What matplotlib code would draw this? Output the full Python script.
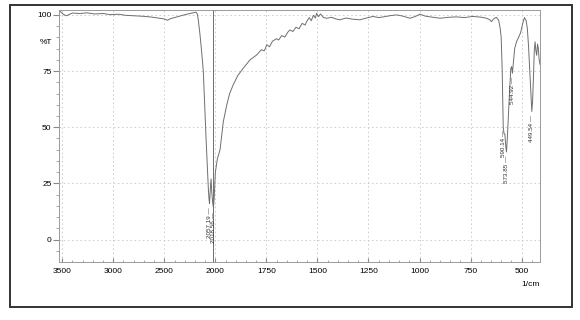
import matplotlib
matplotlib.use("Agg")
import matplotlib.pyplot as plt
import numpy as np
from matplotlib.patches import Rectangle
from matplotlib.ticker import FixedLocator

plt.rcParams['font.family'] = ['Liberation Sans', 'DejaVu Sans']

# IR spectrum (wavenumber in 1/cm, transmittance in %)
wavenumber = [3520, 3490, 3460, 3430, 3400, 3330, 3260, 3180, 3100, 3030,
              2950, 2880, 2800, 2720, 2640, 2560, 2500, 2470, 2440, 2400,
              2340, 2280, 2220, 2190, 2175, 2165, 2150, 2135, 2118, 2105,
              2091, 2078, 2068, 2062, 2057, 2050, 2042, 2035, 2025, 2018,
              2010, 2000, 1990, 1977, 1961, 1944, 1930, 1912, 1890, 1863,
              1830, 1797, 1775, 1760, 1748, 1735, 1720, 1700, 1690, 1675,
              1660, 1645, 1635, 1620, 1605, 1590, 1575, 1560, 1553, 1540,
              1530, 1520, 1510, 1504, 1495, 1485, 1470, 1455, 1430, 1410,
              1390, 1360, 1330, 1292, 1260, 1228, 1200, 1170, 1140, 1112,
              1080, 1047, 1020, 998, 970, 940, 900, 860, 820, 780,
              739, 700, 672, 655, 648, 635, 623, 612, 605, 600,
              595, 590, 586, 582, 578, 574, 570, 565, 560, 553,
              549, 545, 541, 534, 525, 517, 505, 495, 486, 478,
              472, 466, 460, 455, 450, 446, 442, 438, 434, 430,
              426, 422, 418, 414, 410]
transmittance = [101.5, 100.3, 99.6, 100.2, 100.8, 100.6, 100.9, 100.4, 100.6, 100.1,
                 100.3, 99.8, 99.6, 99.4, 99.1, 98.6, 98.2, 97.6, 98.3, 98.8,
                 99.6, 100.3, 100.9, 101.2, 100.2, 97.0, 91.0, 84.0, 75.0, 60.0,
                 45.0, 32.0, 22.0, 18.0, 16.0, 22.0, 27.0, 21.0, 16.0, 14.0,
                 20.0, 30.0, 36.0, 40.0, 52.5, 60.0, 65.0, 69.0, 73.0, 76.3,
                 80.0, 82.2, 84.5, 84.0, 86.7, 85.8, 88.3, 89.4, 88.8, 90.8,
                 90.1, 92.3, 93.3, 92.6, 94.5, 93.8, 96.2, 95.5, 97.0, 98.8,
                 97.4, 99.8, 98.6, 100.7, 99.2, 100.4, 98.8, 98.5, 98.9, 98.2,
                 97.8, 98.6, 98.1, 97.8, 98.6, 99.3, 98.8, 99.2, 99.7, 100.0,
                 99.4, 98.5, 99.3, 100.3, 99.4, 99.0, 98.5, 98.9, 99.1, 98.8,
                 99.3, 99.0, 98.5, 97.8, 97.0, 98.4, 98.9, 97.5, 94.0, 90.0,
                 75.0, 50.0, 47.0, 47.0, 42.0, 39.0, 45.0, 55.0, 64.0, 76.0,
                 77.0, 74.0, 78.0, 85.0, 88.0, 89.6, 92.0, 96.0, 98.8, 97.5,
                 94.0, 86.0, 75.0, 65.0, 57.0, 62.0, 72.0, 84.0, 88.0, 84.0,
                 82.0, 87.0, 85.0, 80.0, 78.0]

peaks = [2057.19, 2018.56, 590.14, 573.85, 544.92, 449.54]
cursor = 2018.56

x_major = [3500, 3000, 2500, 2000, 1750, 1500, 1250, 1000, 750, 500]
y_major = [0, 25, 50, 75, 100]


# 2x expanded scale below 2000 1/cm
def fwd(x):
    x = np.asarray(x, dtype=float)
    return np.where(x > 2000, 2000 + (x - 2000) / 2, x)


def inv(p):
    p = np.asarray(p, dtype=float)
    return np.where(p > 2000, 2000 + (p - 2000) * 2, p)


fig = plt.figure(figsize=(5.8, 3.2), dpi=100)
fig.patches.append(Rectangle((0.017, 0.041), 0.969, 0.944, transform=fig.transFigure,
                             fill=False, edgecolor='#333333', linewidth=1.4))

ax = fig.add_axes([0.102, 0.181, 0.829, 0.788])
ax.set_xscale('function', functions=(fwd, inv))
ax.set_xlim(3530, 410)
ax.set_ylim(-10, 102.2)

ax.xaxis.set_major_locator(FixedLocator(x_major))
ax.xaxis.set_minor_locator(FixedLocator(list(range(2100, 3600, 100)) + list(range(450, 2000, 50))))
ax.yaxis.set_major_locator(FixedLocator(y_major))
ax.yaxis.set_minor_locator(FixedLocator(list(range(-5, 101, 5))))

ax.grid(True, which='major', color='#c8c8c8', linestyle=(0, (2, 3)), linewidth=0.6)
for s in ax.spines.values():
    s.set_color('#9a9a9a')
    s.set_linewidth(0.7)

ax.tick_params(axis='x', which='major', direction='in', length=3, labelsize=6, pad=4,
               color='#888888')
ax.tick_params(axis='x', which='minor', direction='in', length=1.5, color='#999999')
ax.tick_params(axis='y', which='major', direction='out', length=4, labelsize=6, pad=1.5,
               color='#888888')
ax.tick_params(axis='y', which='minor', direction='out', length=2, color='#999999')

ax.plot(wavenumber, transmittance, color='#6e6e6e', linewidth=0.7)
ax.axvline(cursor, color='#6e6e6e', linewidth=0.7)

wn_up = np.array(wavenumber[::-1])
t_up = np.array(transmittance[::-1])
for p in peaks:
    yv = np.interp(p, wn_up, t_up)
    ax.annotate(f"{p:.2f} \u2014", xy=(p, yv), xytext=(0, -3), textcoords='offset points',
                rotation=90, ha='center', va='top', fontsize=4.5, color='#333333')

ax.text(-0.015, 87.5, '%T', transform=ax.get_yaxis_transform(), ha='right', va='center',
        fontsize=6)
ax.text(1.0, -0.087, '1/cm', transform=ax.transAxes, ha='right', va='center', fontsize=6)

fig.savefig('out.png', dpi=100, facecolor='white')
